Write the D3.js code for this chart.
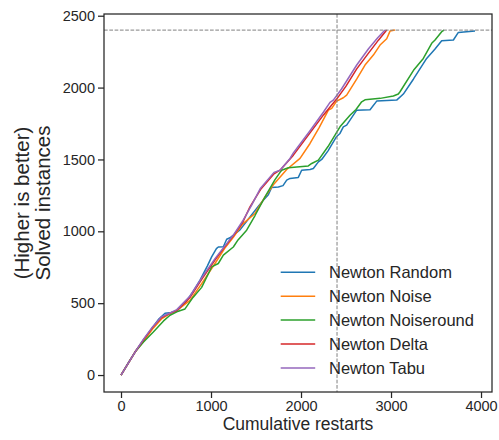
<!DOCTYPE html>
<html>
<head>
<meta charset="utf-8">
<script src="https://cdn.jsdelivr.net/npm/d3@7"></script>
<style>
  body { margin: 0; background: #fff; }
  svg { display: block; font-family: "Liberation Sans", Arial, sans-serif; }
</style>
</head>
<body>
<div id="container"></div>
<script>
// cumulative restarts vs solved instances
const newtonRandom = [[0,0],[80,85],[156,160],[250,245],[350,330],[420,390],[489,430],[560,435],[619,445],[711,500],[800,580],[878,660],[960,760],[1007,822],[1060,880],[1081,891],[1137,893],[1174,945],[1211,955],[1322,1010],[1433,1100],[1520,1170],[1581,1217],[1637,1255],[1674,1305],[1748,1309],[1800,1318],[1841,1356],[1878,1368],[1970,1375],[2007,1425],[2100,1430],[2137,1437],[2193,1483],[2230,1500],[2300,1560],[2396,1660],[2433,1681],[2470,1727],[2507,1739],[2619,1843],[2767,1846],[2841,1906],[3063,1913],[3137,1955],[3250,2060],[3396,2203],[3489,2268],[3563,2326],[3693,2331],[3748,2384],[3933,2393]];
const newtonNoise = [[0,0],[156,160],[250,235],[350,320],[450,390],[544,428],[620,450],[767,520],[900,640],[1044,776],[1150,880],[1250,960],[1350,1050],[1489,1124],[1600,1240],[1700,1330],[1841,1430],[1989,1507],[2100,1611],[2200,1720],[2304,1843],[2341,1855],[2396,1906],[2470,1929],[2507,1948],[2620,2060],[2711,2157],[2804,2226],[2878,2296],[2952,2340],[2989,2393],[3044,2400]];
const newtonNoiseround = [[0,0],[156,160],[250,230],[359,300],[470,375],[544,416],[620,440],[711,460],[800,540],[896,610],[1007,752],[1081,776],[1137,834],[1248,891],[1300,940],[1396,1008],[1489,1110],[1600,1240],[1711,1360],[1767,1410],[1785,1425],[1859,1442],[2081,1455],[2119,1472],[2193,1495],[2300,1590],[2433,1727],[2544,1808],[2611,1848],[2674,1901],[2711,1915],[2880,1925],[3026,1941],[3081,1955],[3100,1971],[3250,2120],[3359,2203],[3452,2308],[3489,2331],[3563,2389],[3589,2400]];
const newtonDelta = [[0,0],[156,160],[250,245],[350,330],[450,400],[544,430],[620,450],[767,540],[900,670],[1044,800],[1150,890],[1250,970],[1350,1060],[1433,1170],[1550,1290],[1700,1400],[1767,1425],[1915,1530],[2100,1685],[2250,1810],[2396,1920],[2500,2010],[2619,2130],[2750,2240],[2860,2330],[2952,2400]];
const newtonTabu = [[0,0],[156,160],[250,250],[350,335],[450,405],[544,432],[620,455],[767,550],[900,680],[1044,810],[1150,895],[1250,975],[1350,1070],[1450,1180],[1550,1300],[1700,1410],[1767,1425],[1878,1507],[1915,1545],[2100,1700],[2250,1830],[2322,1897],[2359,1913],[2450,1990],[2619,2157],[2750,2270],[2850,2345],[2933,2400]];

const seriesNames = ['Newton Random', 'Newton Noise', 'Newton Noiseround', 'Newton Delta', 'Newton Tabu'];
const seriesData = [newtonRandom, newtonNoise, newtonNoiseround, newtonDelta, newtonTabu];
const colors = ['#1f77b4', '#ff7f0e', '#2ca02c', '#d62728', '#9467bd'];
const xTicks = [0, 1000, 2000, 3000, 4000];
const yTicks = [0, 500, 1000, 1500, 2000, 2500];
const target = 2400;

const w = 499;
const h = 440;
const margin = { top: 14, right: 7, bottom: 48, left: 104 };
const width = w - margin.left - margin.right;
const height = h - margin.top - margin.bottom;
const ink = '#262626';

const svg = d3.select('#container')
  .append('svg')
  .attr('width', w)
  .attr('height', h);

const g = svg.append('g')
  .attr('transform', `translate(${margin.left}, ${margin.top})`);

const xScale = d3.scaleLinear().domain([-189, 4122]).range([0, width]);
const yScale = d3.scaleLinear().domain([-118, 2512]).range([height, 0]);

// axes
const xAxis = g.append('g')
  .attr('transform', `translate(0, ${height})`)
  .call(d3.axisBottom(xScale).tickValues(xTicks).tickSize(6).tickPadding(3).tickFormat(d3.format('d')));
const yAxis = g.append('g')
  .call(d3.axisLeft(yScale).tickValues(yTicks).tickSize(6).tickPadding(3).tickFormat(d3.format('d')));

[xAxis, yAxis].forEach(ax => {
  ax.select('.domain').remove();
  ax.selectAll('line').attr('stroke', ink).attr('stroke-width', 1.25);
  ax.selectAll('text').attr('fill', ink).style('font-size', '14.5px');
});

// series lines
const line = d3.line()
  .x(d => xScale(d[0]))
  .y(d => yScale(d[1]));

seriesData.forEach((ds, i) => {
  g.append('path')
    .datum(ds)
    .attr('fill', 'none')
    .attr('stroke', colors[i])
    .attr('stroke-width', 1.5)
    .attr('stroke-linejoin', 'round')
    .attr('d', line);
});

// reference lines
g.append('line')
  .attr('x1', 0).attr('x2', width)
  .attr('y1', yScale(target)).attr('y2', yScale(target))
  .attr('stroke', 'grey').attr('stroke-width', 1)
  .attr('stroke-dasharray', '3.7,1.6');
g.append('line')
  .attr('x1', xScale(target)).attr('x2', xScale(target))
  .attr('y1', 0).attr('y2', height)
  .attr('stroke', 'grey').attr('stroke-width', 1)
  .attr('stroke-dasharray', '3.7,1.6');

// frame
g.append('rect')
  .attr('width', width).attr('height', height)
  .attr('fill', 'none')
  .attr('stroke', ink)
  .attr('stroke-width', 1.25);

// legend
const legend = g.append('g')
  .attr('transform', `translate(${280.7 - margin.left}, ${272.3 - margin.top})`);
seriesNames.forEach((name, i) => {
  const row = legend.append('g').attr('transform', `translate(0, ${i * 23.9})`);
  row.append('line')
    .attr('x1', 0).attr('x2', 34.5)
    .attr('stroke', colors[i]).attr('stroke-width', 1.5);
  row.append('text')
    .attr('x', 48.3).attr('y', 0).attr('dy', '0.35em')
    .attr('fill', ink)
    .style('font-size', '16.5px')
    .text(name);
});

// axis titles
svg.append('text')
  .attr('text-anchor', 'middle')
  .attr('x', margin.left + width / 2)
  .attr('y', 430)
  .attr('fill', ink)
  .style('font-size', '17.5px')
  .text('Cumulative restarts');

const ylab = svg.append('text')
  .attr('text-anchor', 'middle')
  .attr('transform', `translate(0, ${margin.top + height / 2}) rotate(-90)`)
  .attr('fill', ink)
  .style('font-size', '20.5px');
ylab.append('tspan').attr('x', 0).attr('y', 29).text('(Higher is better)');
ylab.append('tspan').attr('x', 0).attr('y', 50).text('Solved instances');
</script>
</body>
</html>
